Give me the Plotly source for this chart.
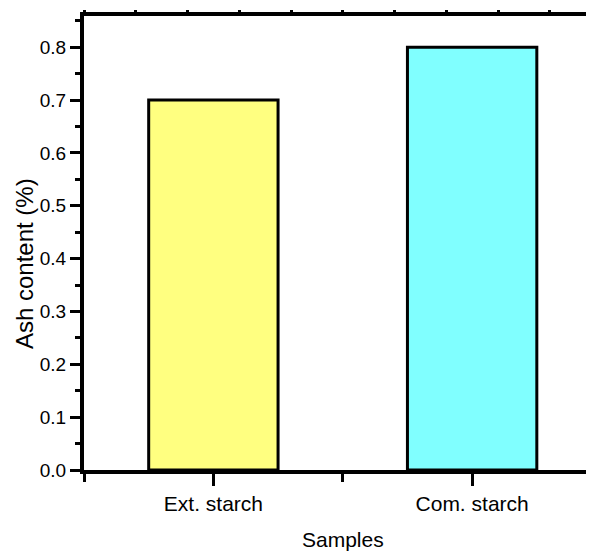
import plotly.graph_objects as go

categories = ["Ext. starch", "Com. starch"]
ash_content = [0.70, 0.80]
bar_colors = ["#FFFF80", "#80FFFF"]
y_title = "Ash content (%)"
x_title = "Samples"

FONT = "Liberation Sans, Arial, sans-serif"

xpos = list(range(len(categories)))
xr = [-0.5, 1.471]
yr = [0, 0.859]

fig = go.Figure()
fig.add_trace(go.Bar(
    x=xpos, y=ash_content, width=0.5,
    marker=dict(color=bar_colors, line=dict(color="black", width=3)),
    showlegend=False, hoverinfo="skip",
))
# invisible trace so the top axis is drawn
fig.add_trace(go.Scatter(x=[0], y=[0], xaxis="x2", yaxis="y", mode="markers",
                         marker=dict(opacity=0), showlegend=False, hoverinfo="skip"))

fig.update_layout(
    width=586, height=546,
    margin=dict(l=76, r=0, t=8, b=84),
    paper_bgcolor="white", plot_bgcolor="white",
    xaxis=dict(
        range=xr, tickmode="array", tickvals=xpos, ticktext=categories,
        showline=True, linewidth=4, linecolor="black", mirror=False,
        ticks="outside", ticklen=12, tickwidth=3, tickcolor="black",
        minor=dict(tickmode="array", tickvals=[-0.5, 0.5, 1.5], ticks="outside",
                   ticklen=8, tickwidth=3, tickcolor="black"),
        showgrid=False, zeroline=False,
        tickfont=dict(family=FONT, size=21, color="black"),
    ),
    xaxis2=dict(
        range=xr, overlaying="x", side="top", anchor="y",
        showline=True, linewidth=4, linecolor="black",
        tickmode="linear", tick0=-0.5, dtick=0.2,
        ticks="outside", ticklen=2, tickwidth=3, tickcolor="black",
        showticklabels=False, showgrid=False, zeroline=False,
    ),
    yaxis=dict(
        range=yr, tickmode="linear", tick0=0, dtick=0.1, tickformat=".1f",
        showline=True, linewidth=4, linecolor="black", mirror=False,
        ticks="outside", ticklen=10, tickwidth=3, tickcolor="black",
        minor=dict(dtick=0.05, tick0=0, ticks="outside", ticklen=5, tickwidth=3, tickcolor="black"),
        showgrid=False, zeroline=False,
        tickfont=dict(family=FONT, size=19, color="black"),
    ),
    annotations=[
        dict(text=y_title, textangle=-90, xref="paper", yref="paper",
             x=-0.1176, y=0.4537, showarrow=False, xanchor="center", yanchor="middle",
             font=dict(family=FONT, size=24, color="black")),
        dict(text=x_title, xref="x", yref="paper", x=0.5, y=-0.154,
             showarrow=False, xanchor="center", yanchor="middle",
             font=dict(family=FONT, size=21, color="black")),
    ],
)

fig.write_html("out.html")
